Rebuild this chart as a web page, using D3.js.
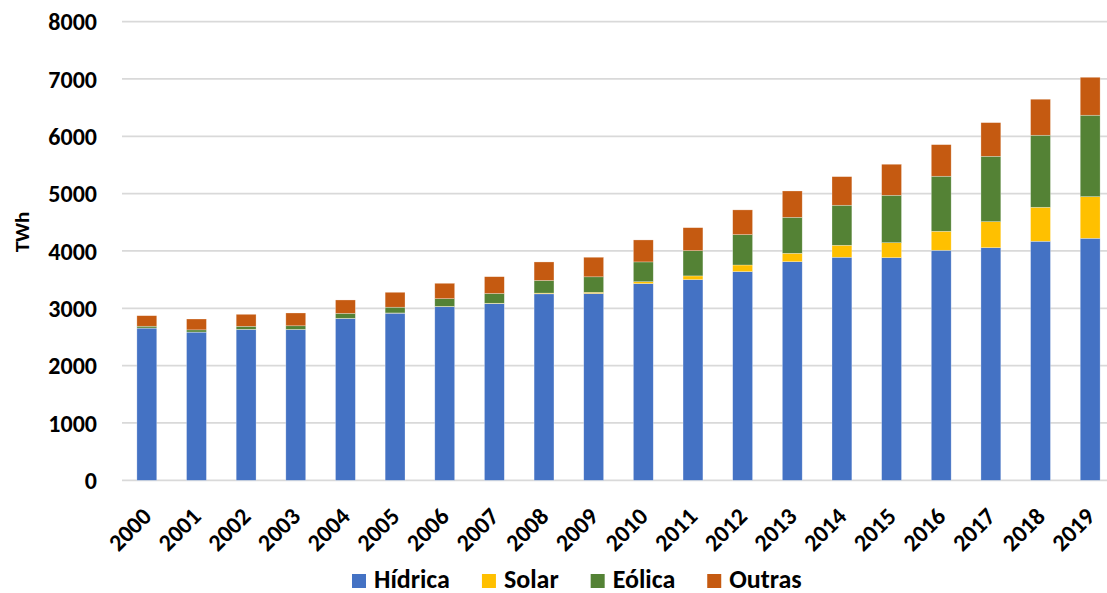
<!DOCTYPE html>
<html>
<head>
<meta charset="utf-8">
<script src="https://cdn.jsdelivr.net/npm/d3@7"></script>
<style>
  html, body { margin: 0; padding: 0; background: #fff; }
  svg text { font-family: Carlito, Lato, "Open Sans", sans-serif; font-weight: 700; fill: #000; }
</style>
</head>
<body>
<svg id="chart" width="1107" height="593"></svg>
<script>
// Renewable electricity generation by source (TWh)
const years = ["2000","2001","2002","2003","2004","2005","2006","2007","2008","2009",
               "2010","2011","2012","2013","2014","2015","2016","2017","2018","2019"];
const hidrica = [2655, 2585, 2632, 2630, 2823, 2915, 3027, 3080, 3252, 3258,
                 3430, 3500, 3640, 3813, 3890, 3883, 4012, 4057, 4169, 4221];
const solar   = [1, 1, 2, 2, 3, 4, 6, 8, 13, 21,
                 34, 65, 115, 146, 209, 261, 331, 454, 593, 726];
const eolica  = [31, 38, 52, 63, 85, 100, 135, 170, 220, 270,
                 345, 440, 530, 628, 698, 827, 960, 1140, 1256, 1420];
const outras  = [184, 189, 209, 223, 234, 260, 268, 293, 323, 341,
                 383, 401, 431, 459, 499, 541, 551, 587, 628, 662];
const seriesNames = ["Hídrica", "Solar", "Eólica", "Outras"];
const seriesColors = ["#4472C4", "#FFC000", "#548235", "#C55A11"];
const yTicks = [0, 1000, 2000, 3000, 4000, 5000, 6000, 7000, 8000];

const rows = years.map((yr, i) => ({
  year: yr, "Hídrica": hidrica[i], "Solar": solar[i], "Eólica": eolica[i], "Outras": outras[i]
}));

const svg = d3.select("#chart");
const plot = { left: 122, right: 1115, top: 21.6, bottom: 480.3 };

const x = d3.scaleBand().domain(years).range([plot.left, plot.right])
  .paddingInner(0.6).paddingOuter(0.3);
const y = d3.scaleLinear().domain([0, 8000]).range([plot.bottom, plot.top]);
const color = d3.scaleOrdinal().domain(seriesNames).range(seriesColors);

// gridlines
svg.append("g").selectAll("line").data(yTicks).join("line")
  .attr("x1", plot.left).attr("x2", 1107)
  .attr("y1", d => y(d)).attr("y2", d => y(d))
  .attr("stroke", "#d9d9d9").attr("stroke-width", 1.8);

// y tick labels
svg.append("g").selectAll("text").data(yTicks).join("text")
  .attr("x", 97).attr("y", d => y(d)).attr("dy", "0.36em")
  .attr("text-anchor", "end").style("font-size", "24px")
  .text(d => d);

// y axis title
svg.append("text")
  .attr("transform", "translate(21,232) rotate(-90)")
  .attr("text-anchor", "middle").attr("dy", "0.36em")
  .style("font-size", "21px").text("TWh");

// stacked bars
const stacked = d3.stack().keys(seriesNames)(rows);
svg.append("g").selectAll("g").data(stacked).join("g")
  .attr("fill", d => color(d.key))
  .selectAll("rect").data(d => d).join("rect")
  .attr("x", d => x(d.data.year))
  .attr("width", x.bandwidth())
  .attr("y", d => y(d[1]))
  .attr("height", d => y(d[0]) - y(d[1]))
  .attr("stroke", "#ffffff").attr("stroke-opacity", 0.45).attr("stroke-width", 0.6);

// x tick labels, rotated
svg.append("g").selectAll("text").data(years).join("text")
  .attr("transform", d => `translate(${x(d) + x.bandwidth() / 2 + 6},518) rotate(-45)`)
  .attr("text-anchor", "end").style("font-size", "24px")
  .text(d => d);

// legend
const legend = svg.append("g");
let lx = 352;
seriesNames.forEach((name, i) => {
  legend.append("rect").attr("x", lx).attr("y", 574).attr("width", 14).attr("height", 14)
    .attr("fill", seriesColors[i]);
  const t = legend.append("text").attr("x", lx + 22).attr("y", 587.5)
    .style("font-size", "26px").text(name);
  lx += 22 + t.node().getComputedTextLength() + 32;
});
</script>
</body>
</html>
